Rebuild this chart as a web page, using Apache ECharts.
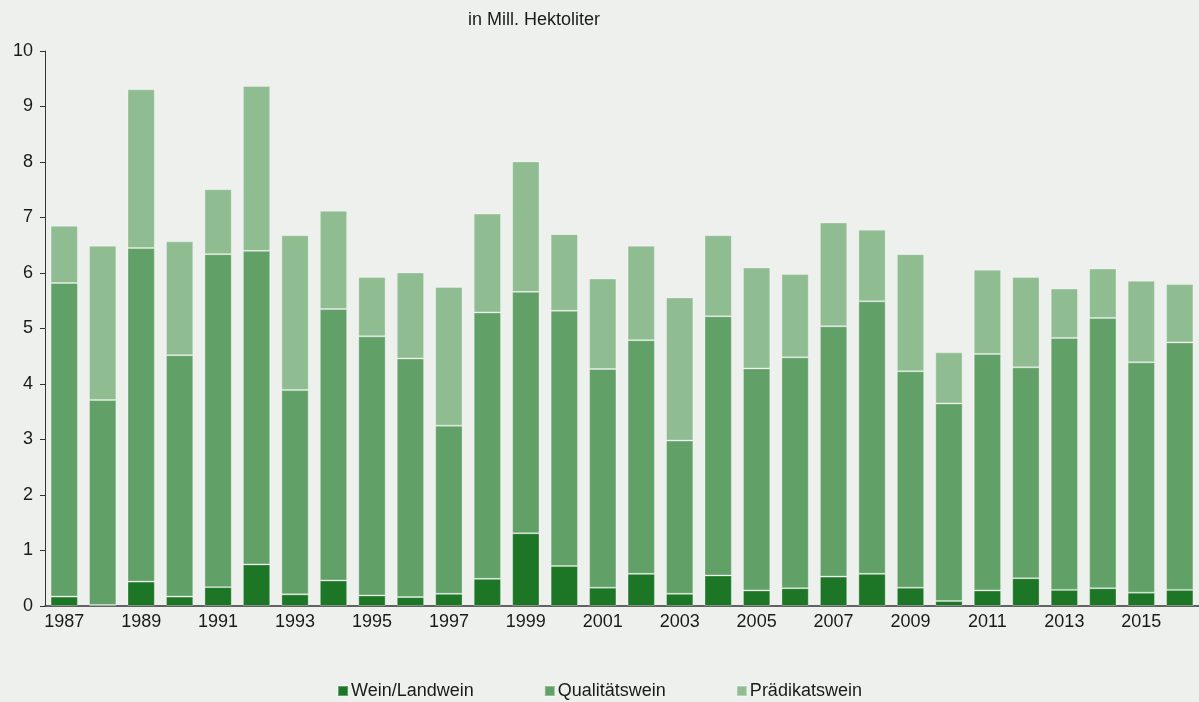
<!DOCTYPE html>
<html><head><meta charset="utf-8">
<script src="https://cdn.jsdelivr.net/npm/echarts@6/dist/echarts.min.js"></script>
<style>html,body{margin:0;padding:0;background:#eef0ee;}#c{width:1199px;height:702px;}</style>
</head><body><div id="c"></div>
<script>
const years = ['1987','1988','1989','1990','1991','1992','1993','1994','1995','1996','1997','1998','1999','2000','2001','2002','2003','2004','2005','2006','2007','2008','2009','2010','2011','2012','2013','2014','2015','2016'];
// segment values (Mill. hl)
const weinLandwein = [0.17,0.02,0.44,0.17,0.34,0.75,0.21,0.46,0.19,0.16,0.22,0.49,1.31,0.72,0.33,0.58,0.22,0.55,0.28,0.32,0.53,0.58,0.33,0.09,0.28,0.50,0.29,0.32,0.24,0.29];
const qualitaetswein = [5.65,3.69,6.01,4.35,6.00,5.65,3.68,4.89,4.67,4.30,3.03,4.80,4.35,4.60,3.94,4.21,2.76,4.67,4.00,4.16,4.51,4.91,3.90,3.56,4.26,3.80,4.54,4.87,4.15,4.46];
const praedikatswein = [1.03,2.78,2.86,2.05,1.17,2.97,2.79,1.77,1.07,1.55,2.50,1.78,2.35,1.38,1.63,1.70,2.58,1.46,1.82,1.50,1.87,1.29,2.11,0.92,1.52,1.63,0.89,0.89,1.47,1.05];
const yTicks = [0,1,2,3,4,5,6,7,8,9,10];

const font = 'Liberation Sans, Arial, sans-serif';
const border = {borderColor:'rgba(255,255,255,0.3)', borderWidth:1};
const chart = echarts.init(document.getElementById('c'));
chart.setOption({
  backgroundColor:'#eef0ee',
  animation:false,
  title:{text:'in Mill. Hektoliter', left:463, top:6, textStyle:{fontFamily:font,fontSize:18,fontWeight:'normal',color:'#1a1a1a'}},
  legend:{bottom:-3, left:'center', itemWidth:10, itemHeight:10, itemGap:70, icon:'rect',
    textStyle:{fontFamily:font,fontSize:18,color:'#1a1a1a',padding:[0,0,0,-2]},
    data:['Wein/Landwein','Qualitätswein','Prädikatswein']},
  grid:{left:45, right:-1, top:51, bottom:96},
  xAxis:{type:'category', data:years,
    axisLine:{lineStyle:{color:'#333',width:1.5}}, axisTick:{show:false},
    axisLabel:{interval:1, fontFamily:font, fontSize:18, color:'#1a1a1a', margin:7}},
  yAxis:{type:'value', min:yTicks[0], max:yTicks[yTicks.length-1], interval:1,
    splitLine:{show:false},
    axisLine:{show:true, lineStyle:{color:'#333',width:1}},
    axisTick:{show:true, length:5, lineStyle:{color:'#333'}},
    axisLabel:{fontFamily:font, fontSize:18, color:'#1a1a1a', margin:12}},
  series:[
    {name:'Wein/Landwein', type:'bar', stack:'a', data:weinLandwein, barCategoryGap:'29%', itemStyle:Object.assign({color:'#1d7526'},border)},
    {name:'Qualitätswein', type:'bar', stack:'a', data:qualitaetswein, itemStyle:Object.assign({color:'#61a066'},border)},
    {name:'Prädikatswein', type:'bar', stack:'a', data:praedikatswein, itemStyle:Object.assign({color:'#8fbd91'},border)}
  ]
});
</script></body></html>
